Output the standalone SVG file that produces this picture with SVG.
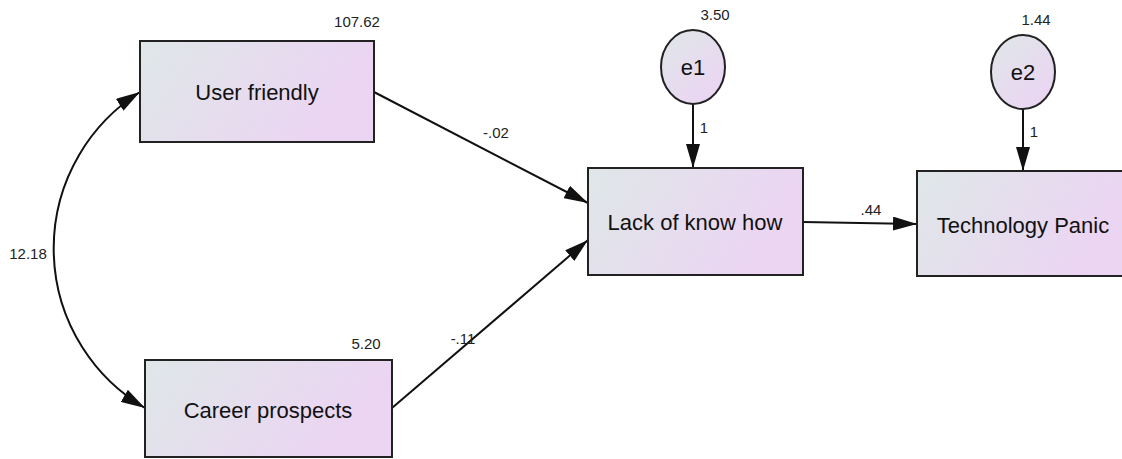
<svg xmlns="http://www.w3.org/2000/svg" width="1122" height="459" viewBox="0 0 1122 459">
<style>
.box{stroke:#222;stroke-width:2;fill:url(#g)}
.ell{stroke:#222;stroke-width:2;fill:url(#g2)}
.lbl{font-family:"Liberation Sans",Arial,sans-serif;font-size:22px;fill:#111;text-anchor:middle;dominant-baseline:central}
.num{font-family:"Liberation Sans",Arial,sans-serif;font-size:15px;fill:#222;text-anchor:middle}
.edge{stroke:#111;stroke-width:2;fill:none}
</style>
<defs>
<linearGradient id="g" x1="0" y1="0" x2="1" y2="0.3">
<stop offset="0" stop-color="#dfe7e8"/>
<stop offset="1" stop-color="#ecd4f3"/>
</linearGradient>
<linearGradient id="g2" x1="0" y1="0" x2="0.8" y2="1">
<stop offset="0" stop-color="#dfe7e8"/>
<stop offset="1" stop-color="#ecd4f3"/>
</linearGradient>
<marker id="ah" markerUnits="userSpaceOnUse" markerWidth="24" markerHeight="14" refX="24" refY="7" orient="auto-start-reverse">
<path d="M0,0 L24,7 L0,14 Z" fill="#111"/>
</marker>
</defs>
<g id="connectors">
<path class="edge" d="M140,92 A185,185 0 0 0 145,408" marker-start="url(#ah)" marker-end="url(#ah)"/>
<line class="edge" x1="374" y1="92" x2="588" y2="203" marker-end="url(#ah)"/>
<line class="edge" x1="392" y1="408" x2="588" y2="240" marker-end="url(#ah)"/>
<line class="edge" x1="693" y1="104" x2="693" y2="168" marker-end="url(#ah)"/>
<line class="edge" x1="1023" y1="109" x2="1023" y2="171" marker-end="url(#ah)"/>
<line class="edge" x1="803" y1="222" x2="917" y2="224" marker-end="url(#ah)"/>
<text class="num" x="28" y="259">12.18</text>
<text class="num" x="496" y="138">-.02</text>
<text class="num" x="463" y="344">-.11</text>
<text class="num" x="704" y="133">1</text>
<text class="num" x="1034" y="137">1</text>
<text class="num" x="871" y="215">.44</text>
</g>
<g id="user_friendly">
<rect class="box" x="140" y="41" width="234" height="101"/>
<text class="lbl" x="257" y="92">User friendly</text>
<text class="num" x="357" y="27">107.62</text>
</g>
<g id="career_prospects">
<rect class="box" x="145" y="360" width="247" height="97"/>
<text class="lbl" x="268" y="410">Career prospects</text>
<text class="num" x="366" y="349">5.20</text>
</g>
<g id="lack_of_know_how">
<rect class="box" x="588" y="168" width="215" height="107"/>
<text class="lbl" x="695" y="222">Lack of know how</text>
</g>
<g id="technology_panic">
<rect class="box" x="917" y="171" width="215" height="105"/>
<text class="lbl" x="1023" y="225">Technology Panic</text>
</g>
<g id="e1">
<ellipse class="ell" cx="693" cy="67" rx="32" ry="37"/>
<text class="lbl" x="693" y="67">e1</text>
<text class="num" x="715" y="20">3.50</text>
</g>
<g id="e2">
<ellipse class="ell" cx="1023" cy="72" rx="32" ry="37"/>
<text class="lbl" x="1023" y="72">e2</text>
<text class="num" x="1036" y="25">1.44</text>
</g>
</svg>
